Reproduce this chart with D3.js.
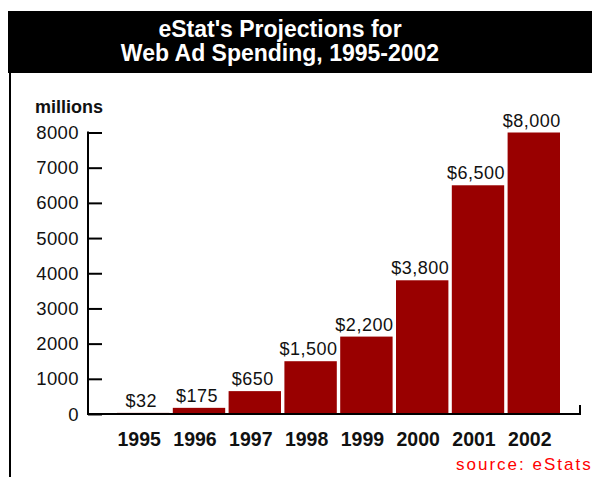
<!DOCTYPE html>
<html>
<head>
<meta charset="utf-8">
<script src="https://cdn.jsdelivr.net/npm/d3@7"></script>
<style>
  html, body { margin: 0; padding: 0; background: #fff; }
  svg { display: block; font-family: "Liberation Sans", Arial, Helvetica, sans-serif; }
</style>
</head>
<body>
<svg id="chart" width="592" height="477"></svg>
<script>
const titleLines = ["eStat's Projections for", "Web Ad Spending, 1995-2002"];
const years = ["1995", "1996", "1997", "1998", "1999", "2000", "2001", "2002"];
const spending = [32, 175, 650, 1500, 2200, 3800, 6500, 8000];
const valueLabels = ["$32", "$175", "$650", "$1,500", "$2,200", "$3,800", "$6,500", "$8,000"];
const yTicks = [0, 1000, 2000, 3000, 4000, 5000, 6000, 7000, 8000];
const unitLabel = "millions";
const sourceLabel = "source: eStats";

const svg = d3.select("#chart");
const data = years.map((y, i) => ({ year: y, value: spending[i], label: valueLabels[i] }));

// Title band
svg.append("rect").attr("x", 8).attr("y", 11).attr("width", 584).attr("height", 62).attr("fill", "#000");
svg.append("line").attr("x1", 10).attr("x2", 10).attr("y1", 73).attr("y2", 477)
  .attr("stroke", "#000").attr("stroke-width", 2);
svg.selectAll("text.title").data(titleLines).join("text")
  .attr("class", "title")
  .attr("x", 280).attr("y", (d, i) => 37 + i * 24)
  .attr("text-anchor", "middle")
  .attr("fill", "#fff").attr("font-weight", "bold").attr("font-size", 23)
  .text(d => d);

const x = d3.scaleBand().domain(years).range([117, 560]).paddingInner(0.061).paddingOuter(0);
const y = d3.scaleLinear().domain([0, 8000]).range([414, 132.5]);

// Y axis
const yAxis = svg.append("g").attr("transform", "translate(88,0)")
  .call(d3.axisRight(y).tickValues(yTicks).tickSize(14).tickFormat(""));
yAxis.select(".domain").remove();
yAxis.selectAll("line").attr("stroke", "#000").attr("stroke-width", 2);
svg.append("line").attr("x1", 88).attr("x2", 88).attr("y1", y(8000) - 1).attr("y2", y(0) + 1)
  .attr("stroke", "#000").attr("stroke-width", 2);
svg.selectAll("text.ytick").data(yTicks).join("text")
  .attr("class", "ytick")
  .attr("x", 79).attr("y", d => y(d) + 6.5)
  .attr("text-anchor", "end").attr("font-size", 18.5).attr("letter-spacing", 0.4).attr("fill", "#111")
  .text(d => d);

svg.append("text").attr("x", 35).attr("y", 113)
  .attr("font-weight", "bold").attr("font-size", 18).attr("fill", "#111")
  .text(unitLabel);

// Bars
svg.selectAll("rect.bar").data(data).join("rect")
  .attr("class", "bar")
  .attr("x", d => x(d.year)).attr("width", x.bandwidth())
  .attr("y", d => y(d.value)).attr("height", d => y(0) - y(d.value))
  .attr("fill", "#990000");

// X axis
svg.append("line").attr("x1", 87).attr("x2", 581).attr("y1", y(0)).attr("y2", y(0))
  .attr("stroke", "#000").attr("stroke-width", 2);
svg.append("line").attr("x1", 580).attr("x2", 580).attr("y1", y(0)).attr("y2", y(0) - 9)
  .attr("stroke", "#000").attr("stroke-width", 2);

// Value labels
svg.selectAll("text.val").data(data).join("text")
  .attr("class", "val")
  .attr("x", d => x(d.year) + x.bandwidth() / 2 - 2)
  .attr("y", d => y(d.value) - 6)
  .attr("text-anchor", "middle").attr("font-size", 18).attr("letter-spacing", 0.5).attr("fill", "#111")
  .text(d => d.label);

// Year labels
svg.selectAll("text.year").data(data).join("text")
  .attr("class", "year")
  .attr("x", d => x(d.year) + x.bandwidth() / 2 - 4)
  .attr("y", 446)
  .attr("text-anchor", "middle").attr("font-size", 19.5).attr("font-weight", "bold").attr("fill", "#111")
  .text(d => d.year);

svg.append("text").attr("x", 456).attr("y", 470)
  .attr("font-size", 17).attr("fill", "#ff0000").attr("letter-spacing", 2)
  .text(sourceLabel);
</script>
</body>
</html>
